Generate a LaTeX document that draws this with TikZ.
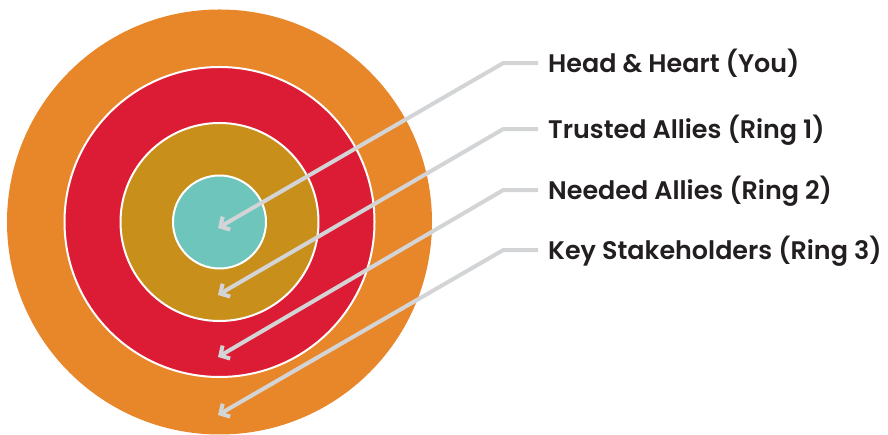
\documentclass[tikz,border=0pt]{standalone}
\usepackage{fontspec}
\setmainfont{Poppins}[BoldFont={Poppins SemiBold}]
\usepackage{xcolor}
\definecolor{ringout}{HTML}{E8862A}
\definecolor{ringthree}{HTML}{DC1C35}
\definecolor{ringtwo}{HTML}{C8901A}
\definecolor{ringone}{HTML}{6EC5BC}
\definecolor{pointer}{HTML}{D3D4D6}
\definecolor{ink}{HTML}{231F20}
\usetikzlibrary{arrows.meta}
\tikzset{
  ring/.style={circle, draw=white, line width=2bp, inner sep=0pt, minimum size=#1},
  lbl/.style={anchor=base west, inner sep=0pt, text=ink, font=\fontsize{25.5}{28}\selectfont\bfseries},
  pointerline/.style={draw=pointer, line width=4bp, -{Straight Barb[length=7bp,width=15bp]}}
}

\begin{document}
\begin{tikzpicture}[x=1bp,y=1bp]
  \useasboundingbox (0,0) rectangle (888,435);

  % target rings
  \node[ring=425bp, fill=ringout, draw=none] (outer) at (219.5,213) {};
  \node[ring=310bp, fill=ringthree] (needed) at (219.5,213) {};
  \node[ring=198bp, fill=ringtwo] (trusted) at (219.5,213) {};
  \node[ring=93bp, fill=ringone] (you) at (219.5,213) {};

  % labels
  \node[lbl] (l1) at (548,362.3) {Head \& Heart (You)};
  \node[lbl] (l2) at (548,296.3) {Trusted Allies (Ring 1)};
  \node[lbl] (l3) at (548,235.3) {Needed Allies (Ring 2)};
  \node[lbl] (l4) at (548,175.3) {Key Stakeholders (Ring 3)};

  % arrow ends
  \coordinate (t1) at (218,207);
  \coordinate (t2) at (218,140);
  \coordinate (t3) at (218,78);
  \coordinate (t4) at (218,20);

  \draw[pointerline] ([xshift=-10bp,yshift=9.5bp]l1.base west) -- ++(-35,0) -- (t1);
  \draw[pointerline] ([xshift=-10bp,yshift=9.5bp]l2.base west) -- ++(-35,0) -- (t2);
  \draw[pointerline] ([xshift=-10bp,yshift=9.5bp]l3.base west) -- ++(-35,0) -- (t3);
  \draw[pointerline] ([xshift=-10bp,yshift=9.5bp]l4.base west) -- ++(-35,0) -- (t4);
\end{tikzpicture}
\end{document}
